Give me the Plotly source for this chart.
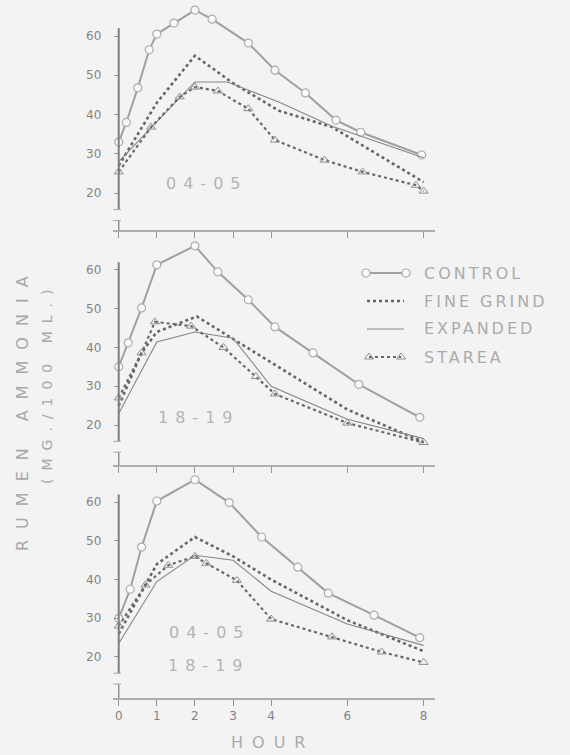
import plotly.graph_objects as go

W, H = 570, 755
BG = "#f3f3f3"

HOUR_TICKS = [0, 1, 2, 3, 4, 6, 8]
Y_TICKS = [20, 30, 40, 50, 60]
SERIES_NAMES = ["CONTROL", "FINE GRIND", "EXPANDED", "STAREA"]
PANEL_LABELS = [["04-05"], ["18-19"], ["04-05", "18-19"]]
Y_TITLE_1 = "RUMEN AMMONIA"
Y_TITLE_2 = "(MG./100 ML.)"
X_TITLE = "HOUR"

# ---- Panel 1 : 04-05 ----
P1_CONTROL_HR = [0, 0.2, 0.5, 0.8, 1.0, 1.45, 2.0, 2.45, 3.4, 4.1, 4.9, 5.7, 6.35, 7.95]
P1_CONTROL = [33, 38, 46.8, 56.5, 60.5, 63.3, 66.6, 64.3, 58.2, 51.3, 45.5, 38.6, 35.5, 29.7]
P1_FINE_HR = [0, 1, 2, 3, 4.2, 5.6, 8]
P1_FINE = [27, 43, 55, 48, 41, 36.8, 22.8]
P1_EXP_HR = [0, 2, 2.85, 4.2, 5.6, 8]
P1_EXP = [28, 48.3, 48.3, 43.2, 37, 29]
P1_STAREA_HR = [0, 0.85, 1.6, 2.0, 2.6, 3.4, 4.1, 5.4, 6.4, 7.8, 8]
P1_STAREA = [25.4, 36.8, 44.5, 47, 46, 41.5, 33.5, 28.4, 25.4, 22, 20.5]

# ---- Panel 2 : 18-19 ----
P2_CONTROL_HR = [0, 0.25, 0.6, 1, 2, 2.6, 3.4, 4.1, 5.1, 6.3, 7.9]
P2_CONTROL = [35, 41.2, 50.2, 61.3, 66.2, 59.5, 52.3, 45.3, 38.6, 30.5, 22]
P2_FINE_HR = [0, 0.6, 1, 2.05, 3, 4.1, 6, 8]
P2_FINE = [25, 38.6, 44, 48, 42.2, 35.5, 24, 15.6]
P2_EXP_HR = [0, 1, 2, 3, 4, 6, 8]
P2_EXP = [23, 41.4, 44, 42.4, 30, 21.5, 16.5]
P2_STAREA_HR = [0, 0.6, 0.95, 1.9, 2.75, 3.6, 4.1, 6, 8]
P2_STAREA = [27, 38.6, 46.6, 45.5, 40, 32.5, 28, 20.5, 15.5]

# ---- Panel 3 : 04-05 + 18-19 ----
P3_CONTROL_HR = [0, 0.3, 0.6, 1, 2, 2.9, 3.75, 4.7, 5.5, 6.7, 7.9]
P3_CONTROL = [30, 37.5, 48.4, 60.3, 65.8, 59.9, 51, 43.2, 36.5, 30.8, 25]
P3_FINE_HR = [0, 1, 2, 3, 4, 6, 8]
P3_FINE = [26, 44, 51, 46, 40, 29.5, 21.5]
P3_EXP_HR = [0, 1, 2, 3, 4, 6, 8]
P3_EXP = [23.5, 39.5, 46.3, 45, 37, 28.5, 23]
P3_STAREA_HR = [0, 0.7, 1.3, 2, 2.3, 3.1, 4, 5.6, 6.9, 8]
P3_STAREA = [28, 38.6, 43.7, 46, 44.2, 39.8, 29.8, 25.2, 21.3, 18.6]

PANELS = [
    [(P1_CONTROL_HR, P1_CONTROL), (P1_FINE_HR, P1_FINE), (P1_EXP_HR, P1_EXP), (P1_STAREA_HR, P1_STAREA)],
    [(P2_CONTROL_HR, P2_CONTROL), (P2_FINE_HR, P2_FINE), (P2_EXP_HR, P2_EXP), (P2_STAREA_HR, P2_STAREA)],
    [(P3_CONTROL_HR, P3_CONTROL), (P3_FINE_HR, P3_FINE), (P3_EXP_HR, P3_EXP), (P3_STAREA_HR, P3_STAREA)],
]

# ---- layout geometry (pixels) ----
PLOT_L, PLOT_R = 113, 435
X_RANGE = [-0.15, 8.3]
PANEL_BOX = [(5, 230, [10.6, 67.9]), (240, 465, [9.7, 67.7]), (472, 698, [9.4, 67.8])]
LABEL_POS = [[(207, 183)], [(199, 417)], [(210, 632), (209, 665)]]

def px(x):
    return x / W

def py(y):
    return 1 - y / H

STYLES = [
    dict(mode="lines+markers", line=dict(color="#a0a0a0", width=2),
         marker=dict(symbol="circle", size=8, color="#fbfbfb", line=dict(color="#adadad", width=1.2))),
    dict(mode="lines", line=dict(color="#666666", width=2.6, dash="dot")),
    dict(mode="lines", line=dict(color="#858585", width=1.1)),
    dict(mode="lines+markers", line=dict(color="#686868", width=2.2, dash="dot"),
         marker=dict(symbol="triangle-up-open", size=8, color="#8f8f8f", line=dict(width=1))),
]

fig = go.Figure()
hour_to_frac = lambda h: (PLOT_L + (h - X_RANGE[0]) / (X_RANGE[1] - X_RANGE[0]) * (PLOT_R - PLOT_L)) / W

shapes = []
annotations = []
for i, panel in enumerate(PANELS):
    n = i + 1
    xa = "x" if n == 1 else f"x{n}"
    ya = "y" if n == 1 else f"y{n}"
    for (hrs, vals), name, st in zip(panel, SERIES_NAMES, STYLES):
        fig.add_trace(go.Scatter(x=hrs, y=vals, name=name, xaxis=xa, yaxis=ya,
                                 showlegend=False, cliponaxis=False, **st))
    top, bot, yr = PANEL_BOX[i]
    xkey = "xaxis" if n == 1 else f"xaxis{n}"
    ykey = "yaxis" if n == 1 else f"yaxis{n}"
    fig.update_layout(**{
        xkey: dict(domain=[px(PLOT_L), px(PLOT_R)], range=X_RANGE, anchor=ya,
                   showgrid=False, zeroline=False, showline=True, linecolor="#aeaeae", linewidth=1.5,
                   ticks="outside", ticklen=6, tickwidth=1.2, tickcolor="#959595",
                   tickvals=HOUR_TICKS, showticklabels=(n == 3),
                   tickfont=dict(family="DejaVu Sans", size=12, color="#838383")),
        ykey: dict(domain=[py(bot), py(top)], range=yr, anchor="free", position=hour_to_frac(0),
                   showgrid=False, zeroline=False, showline=False,
                   ticks="outside", ticklen=5, tickwidth=1.2, tickcolor="#959595",
                   tickvals=Y_TICKS, ticklabelstandoff=10,
                   tickfont=dict(family="DejaVu Sans", size=12, color="#838383")),
    })
    # y axis line with a break near the bottom
    shapes.append(dict(type="line", xref=xa, yref=ya, x0=0, x1=0, y0=15.8, y1=62,
                       line=dict(color="#7f7f7f", width=2)))
    shapes.append(dict(type="line", xref=xa, yref=ya, x0=0, x1=0, y0=yr[0], y1=13.0,
                       line=dict(color="#8f8f8f", width=1.5)))
    for yb in (15.8, 13.0):
        shapes.append(dict(type="line", xref=xa, yref=ya, x0=-0.14, x1=0.06, y0=yb, y1=yb,
                           line=dict(color="#a5a5a5", width=1)))
    for text, (lx, ly) in zip(PANEL_LABELS[i], LABEL_POS[i]):
        annotations.append(dict(xref="paper", yref="paper", x=px(lx), y=py(ly), showarrow=False,
                                text=f'<span style="letter-spacing:7px">{text}</span>',
                                font=dict(family="DejaVu Sans", size=16, color="#b3b3b3"),
                                xanchor="center", yanchor="middle"))

# legend drawn on a full-figure pixel overlay axis
LEG_X = [(366, 406), (367, 404), (367, 404), (369, 401)]
LEG_Y = [273, 301, 329, 357]
for name, st, (x0, x1), ly in zip(SERIES_NAMES, STYLES, LEG_X, LEG_Y):
    fig.add_trace(go.Scatter(x=[x0, x1], y=[ly, ly], xaxis="x4", yaxis="y4", showlegend=False,
                             cliponaxis=False, hoverinfo="skip", **st))
    annotations.append(dict(xref="paper", yref="paper", x=px(422), y=py(ly), showarrow=False,
                            text=f'<span style="letter-spacing:3px">{name}</span>',
                            font=dict(family="DejaVu Sans", size=16, color="#ababab"),
                            xanchor="left", yanchor="middle"))

fig.update_layout(
    xaxis4=dict(domain=[0, 1], range=[0, W], visible=False, fixedrange=True, anchor="y4"),
    yaxis4=dict(domain=[0, 1], range=[H, 0], visible=False, fixedrange=True, anchor="x4"),
)

annotations.append(dict(xref="paper", yref="paper", x=px(272), y=py(742), showarrow=False,
                        text=f'<span style="letter-spacing:9px">{X_TITLE}</span>',
                        font=dict(family="DejaVu Sans", size=16, color="#ababab"),
                        xanchor="center", yanchor="middle"))
annotations.append(dict(xref="paper", yref="paper", x=px(22), y=py(408), showarrow=False,
                        text=f'<span style="letter-spacing:11px">{Y_TITLE_1}</span>', textangle=-90,
                        font=dict(family="DejaVu Sans", size=16, color="#a8a8a8"),
                        xanchor="center", yanchor="middle"))
annotations.append(dict(xref="paper", yref="paper", x=px(47), y=py(383), showarrow=False,
                        text=f'<span style="letter-spacing:8px">{Y_TITLE_2}</span>', textangle=-90,
                        font=dict(family="DejaVu Sans", size=14, color="#a8a8a8"),
                        xanchor="center", yanchor="middle"))

fig.update_layout(
    width=W, height=H, margin=dict(l=0, r=0, t=0, b=0),
    paper_bgcolor=BG, plot_bgcolor="rgba(0,0,0,0)",
    shapes=shapes, annotations=annotations, showlegend=False,
)

fig.write_html("out.html", config={"displayModeBar": False},
               post_script="document.body.style.margin='0';")
